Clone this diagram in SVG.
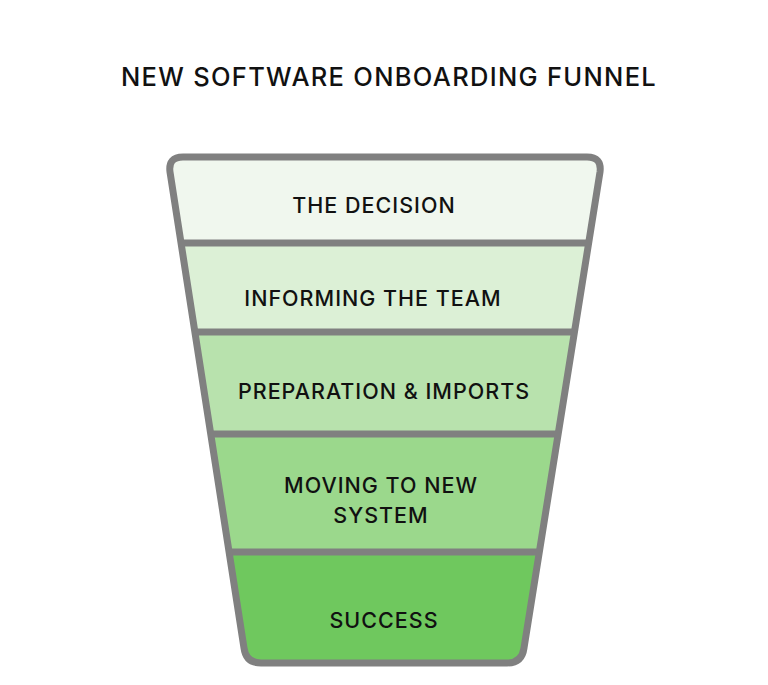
<svg xmlns="http://www.w3.org/2000/svg" width="768" height="685" viewBox="0 0 768 685">
<style>
text{font-family:Inter,"Liberation Sans",sans-serif;font-size:21.5px;font-weight:500;fill:#111;text-anchor:middle;letter-spacing:1px}
.div{stroke:#808080;stroke-width:7}
</style>
<defs>
<clipPath id="f"><path d="M183 157 L587 157 Q602 157 600 172 L524 648 Q522 663 507 663 L261 663 Q246 663 244 648 L170 172 Q168 157 183 157 Z"/></clipPath>
</defs>
<rect width="768" height="685" fill="#fff"/>
<text x="389" y="86" style="font-size:25.5px;letter-spacing:1.3px">NEW SOFTWARE ONBOARDING FUNNEL</text>
<g clip-path="url(#f)">
<g id="n1"><rect x="100" y="150" width="560" height="93" fill="#f0f7ee"/></g>
<g id="n2"><rect x="100" y="243" width="560" height="89" fill="#dcf0d6"/></g>
<g id="n3"><rect x="100" y="332" width="560" height="102" fill="#b8e2ad"/></g>
<g id="n4"><rect x="100" y="434" width="560" height="118" fill="#9bd88c"/></g>
<g id="n5"><rect x="100" y="552" width="560" height="120" fill="#6fc85e"/></g>
<g id="connectors">
<line class="div" x1="100" y1="243" x2="660" y2="243"/>
<line class="div" x1="100" y1="332" x2="660" y2="332"/>
<line class="div" x1="100" y1="434" x2="660" y2="434"/>
<line class="div" x1="100" y1="552" x2="660" y2="552"/>
</g>
</g>
<path d="M183 157 L587 157 Q602 157 600 172 L524 648 Q522 663 507 663 L261 663 Q246 663 244 648 L170 172 Q168 157 183 157 Z" fill="none" stroke="#808080" stroke-width="7"/>
<text x="374" y="213">THE DECISION</text>
<text x="373" y="306">INFORMING THE TEAM</text>
<text x="384" y="399">PREPARATION &amp; IMPORTS</text>
<text x="381" y="493">MOVING TO NEW</text>
<text x="381" y="523">SYSTEM</text>
<text x="384" y="628">SUCCESS</text>
</svg>
